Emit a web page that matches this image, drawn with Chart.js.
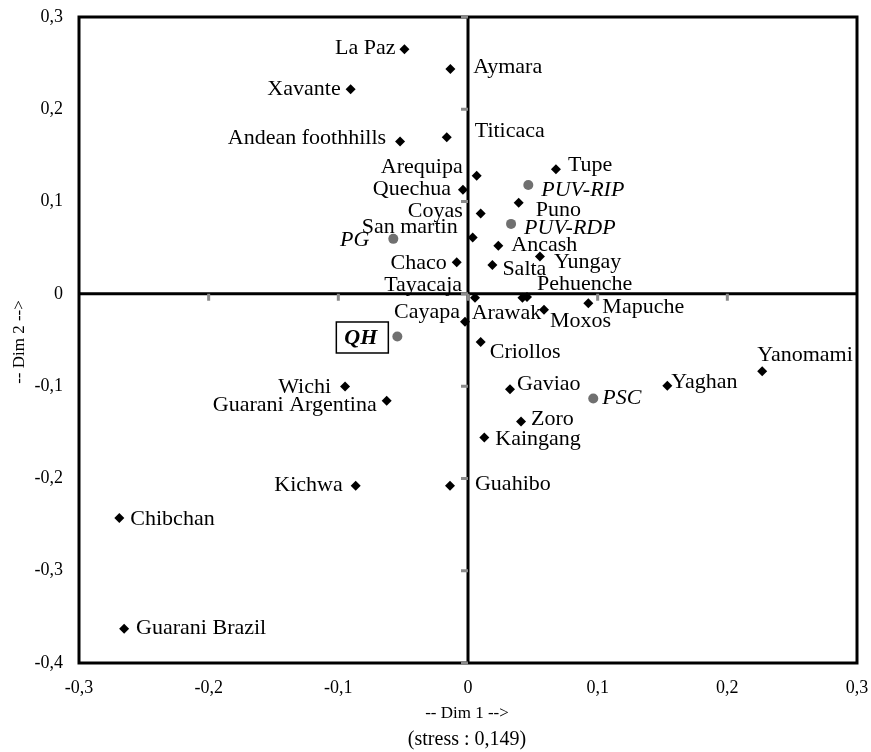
<!DOCTYPE html>
<html>
<head>
<meta charset="utf-8">
<script src="https://cdn.jsdelivr.net/npm/chart.js@4.4.0/dist/chart.umd.min.js"></script>
<style>
  html, body { margin: 0; padding: 0; background: #fff; }
  #c { display: block; }
</style>
</head>
<body>
<canvas id="c" width="871" height="752" style="width:871px;height:752px"></canvas>
<script>
// ---------- DATA ----------
const popNames = ["La Paz","Aymara","Xavante","Andean foothhills","Titicaca","Arequipa","Quechua","Coyas","San martin",
  "Tupe","Puno","Ancash","Yungay","Salta","Chaco","Tayacaja","Arawak","Pehuenche","Cayapa","Moxos","Mapuche",
  "Criollos","Gaviao","Yaghan","Yanomami","Zoro","Kaingang","Guahibo","Kichwa","Chibchan","Guarani Brazil","Wichi","Guarani Argentina"];
const popDim1 = [-0.049,-0.0136,-0.0905,-0.0524,-0.0164,0.0067,-0.0039,0.0098,0.0036,
  0.0678,0.0391,0.0234,0.0555,0.0188,-0.0087,0.0054,0.042,0.0455,-0.0023,0.0586,0.0928,
  0.0098,0.0324,0.1537,0.2269,0.0409,0.0126,-0.0139,-0.0866,-0.2689,-0.2652,-0.0948,-0.0627];
const popDim2 = [0.265,0.2437,0.2218,0.165,0.1698,0.128,0.1127,0.087,0.061,
  0.135,0.0986,0.052,0.0404,0.0314,0.0343,-0.0043,-0.0043,-0.0033,-0.0303,-0.0173,-0.0101,
  -0.0523,-0.1033,-0.0997,-0.0838,-0.1383,-0.1557,-0.208,-0.208,-0.243,-0.363,-0.1004,-0.1159];

const refNames = ["PG","PUV-RIP","PUV-RDP","PSC","QH"];
const refDim1 = [-0.0576,0.0465,0.0332,0.0966,-0.0545];
const refDim2 = [0.0596,0.118,0.0758,-0.1134,-0.0462];

const xTicks = [-0.3,-0.2,-0.1,0,0.1,0.2,0.3];
const yTicks = [-0.4,-0.3,-0.2,-0.1,0,0.1,0.2,0.3];
const xTitle = "-- Dim 1 -->";
const xSubtitle = "(stress : 0,149)";
const yTitle = "-- Dim 2 -->";

// ---------- LABEL PLACEMENT (layout only) ----------
const labelPlacement = {
  "La Paz":["right",-9,-3], "Aymara":["left",23,-3], "Xavante":["right",-10,-1],
  "Andean foothhills":["right",-14,-5], "Titicaca":["left",28,-7], "Arequipa":["right",-14,-10],
  "Quechua":["right",-12,-2], "Coyas":["right",-18,-4], "San martin":["right",-15,-12],
  "Tupe":["left",12,-6], "Puno":["left",17,6], "Ancash":["left",13,-2], "Yungay":["left",14,4],
  "Salta":["left",10,3], "Chaco":["right",-10,0], "Tayacaja":["right",-13,-14],
  "Arawak":["center",-16,14], "Pehuenche":["left",10,-14], "Cayapa":["right",-5,-11],
  "Moxos":["left",6,10], "Mapuche":["left",14,3], "Criollos":["left",9,9], "Gaviao":["left",7,-6],
  "Yaghan":["left",4,-5], "Yanomami":["left",-5,-17], "Zoro":["left",10,-4], "Kaingang":["left",11,0],
  "Guahibo":["left",25,-3], "Kichwa":["right",-13,-2], "Chibchan":["left",11,0],
  "Guarani Brazil":["left",12,-2], "Wichi":["right",-14,-1], "Guarani Argentina":["right",-10,3],
  "PG":["right",-24,0], "PUV-RIP":["left",13,4], "PUV-RDP":["left",13,3], "PSC":["left",9,-2],
  "QH":["right",-20,0]
};

const FONT = "Liberation Serif, 'Times New Roman', serif";

function fmt(v) {
  if (Math.abs(v) < 1e-9) return "0";
  return (Math.round(v * 10) / 10).toFixed(1).replace(".", ",");
}

function zeroPad(s) {
  s.paddingLeft = 0; s.paddingRight = 0; s.paddingTop = 0; s.paddingBottom = 0;
}

const framePlugin = {
  id: "frame",
  beforeDatasetsDraw(chart) {
    const {ctx, chartArea: a, scales: {x, y}} = chart;
    const x0 = x.getPixelForValue(0), y0 = y.getPixelForValue(0);
    ctx.save();
    ctx.strokeStyle = "#000";
    ctx.lineWidth = 3;
    ctx.strokeRect(a.left, a.top, a.right - a.left, a.bottom - a.top);
    ctx.beginPath();
    ctx.moveTo(x0, a.top); ctx.lineTo(x0, a.bottom);
    ctx.moveTo(a.left, y0); ctx.lineTo(a.right, y0);
    ctx.stroke();
    // gray tick marks on the crossing axes
    ctx.strokeStyle = "#8a8a8a";
    ctx.lineWidth = 3;
    ctx.beginPath();
    yTicks.forEach(v => {
      const py = y.getPixelForValue(v);
      ctx.moveTo(x0 - 7, py); ctx.lineTo(x0, py);
    });
    xTicks.forEach(v => {
      if (Math.abs(v) >= 0.3) return;
      const px = x.getPixelForValue(v);
      ctx.moveTo(px, y0); ctx.lineTo(px, y0 + 7);
    });
    ctx.stroke();
    ctx.restore();
  },
  afterDatasetsDraw(chart) {
    const {ctx, chartArea: a, scales: {x, y}} = chart;
    ctx.save();
    ctx.fillStyle = "#000";
    ctx.textBaseline = "middle";
    const drawLabel = (name, vx, vy, style) => {
      const p = labelPlacement[name] || ["left", 10, 0];
      const px = x.getPixelForValue(vx) + p[1];
      const py = y.getPixelForValue(vy) + p[2] + 1.5;
      ctx.font = style + "22px " + FONT;
      ctx.textAlign = p[0];
      ctx.fillText(name, px, py);
      if (name === "QH") {
        const w = ctx.measureText(name).width;
        ctx.lineWidth = 1.5;
        ctx.strokeStyle = "#000";
        ctx.strokeRect(px - w - 8, py - 16, w + 19, 31);
      }
    };
    popNames.forEach((n, i) => drawLabel(n, popDim1[i], popDim2[i], ""));
    refNames.forEach((n, i) => drawLabel(n, refDim1[i], refDim2[i], n === "QH" ? "italic bold " : "italic "));
    // axis titles
    const cx = (a.left + a.right) / 2;
    ctx.textAlign = "center";
    ctx.font = "17px " + FONT;
    ctx.fillText(xTitle, cx - 1, 714);
    ctx.font = "20px " + FONT;
    ctx.fillText(xSubtitle, cx - 1, 740);
    ctx.save();
    ctx.translate(20, (a.top + a.bottom) / 2 + 2);
    ctx.rotate(-Math.PI / 2);
    ctx.font = "17px " + FONT;
    ctx.fillText(yTitle, 0, 0);
    ctx.restore();
    ctx.restore();
  }
};

new Chart(document.getElementById("c"), {
  type: "scatter",
  data: {
    datasets: [
      {
        data: popNames.map((n, i) => ({x: popDim1[i], y: popDim2[i]})),
        pointStyle: "rectRot", pointRadius: 5, pointHoverRadius: 5,
        backgroundColor: "#000", borderWidth: 0
      },
      {
        data: refNames.map((n, i) => ({x: refDim1[i], y: refDim2[i]})),
        pointStyle: "circle", pointRadius: 5, pointHoverRadius: 5,
        backgroundColor: "#707070", borderWidth: 0
      }
    ]
  },
  options: {
    responsive: false,
    animation: false,
    devicePixelRatio: 1,
    layout: {padding: {top: 17, right: 14, bottom: 0, left: 0}},
    plugins: {legend: {display: false}, tooltip: {enabled: false}},
    scales: {
      x: {
        type: "linear", min: -0.3, max: 0.3,
        grid: {display: false, drawTicks: false},
        border: {display: false},
        afterBuildTicks: s => { s.ticks = xTicks.map(v => ({value: v})); },
        ticks: {callback: v => fmt(v), color: "#000", font: {family: FONT, size: 18}, padding: 14, maxRotation: 0, autoSkip: false},
        afterFit: s => { s.height = 89; zeroPad(s); }
      },
      y: {
        type: "linear", min: -0.4, max: 0.3,
        grid: {display: false, drawTicks: false},
        border: {display: false},
        afterBuildTicks: s => { s.ticks = yTicks.map(v => ({value: v})); },
        ticks: {callback: v => fmt(v), color: "#000", font: {family: FONT, size: 18}, padding: 16, autoSkip: false},
        afterFit: s => { s.width = 79; zeroPad(s); }
      }
    }
  },
  plugins: [framePlugin]
});
</script>
</body>
</html>
